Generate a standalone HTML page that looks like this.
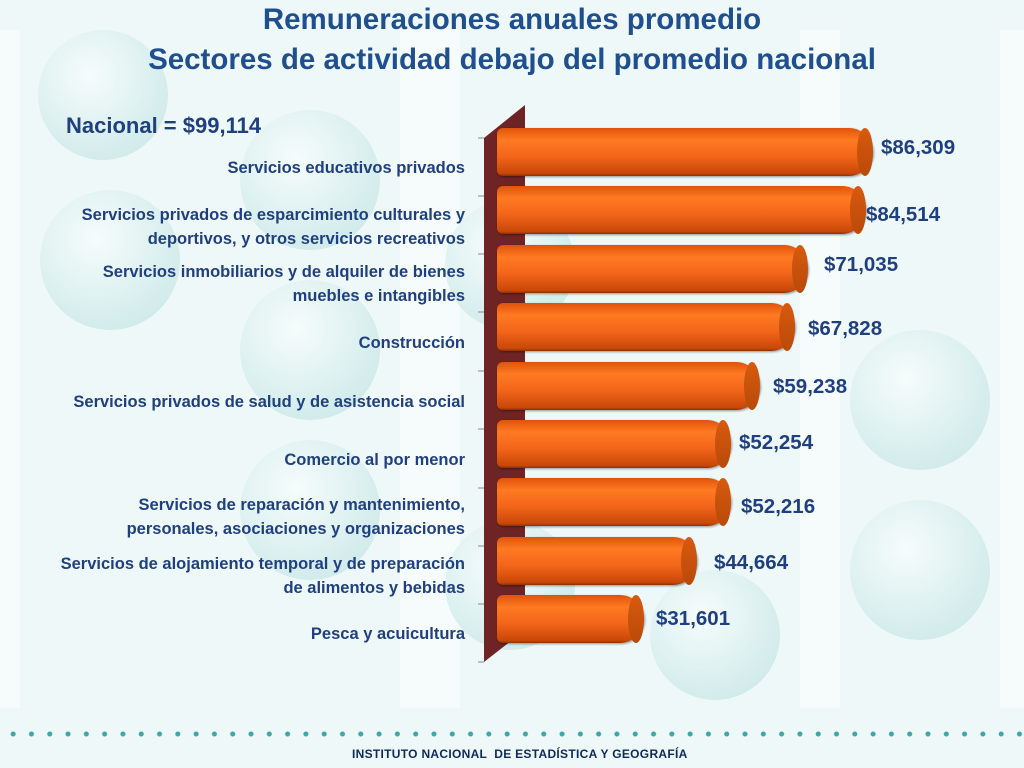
<!DOCTYPE html>
<html><head><meta charset="utf-8"><style>
body{margin:0;width:1024px;height:768px;overflow:hidden;background:#eef8f8;font-family:"Liberation Sans",sans-serif;position:relative}
.c{position:absolute;border-radius:50%;background:radial-gradient(circle at 40% 35%,#f6fcfc,#d4ecec 70%,#c6e4e4)}
.s{position:absolute;top:30px;bottom:60px;background:#f7fcfc;opacity:.8}
.t{position:absolute;left:0;width:1024px;text-align:center;color:#1f4f8f;font-weight:bold;font-size:29.5px;white-space:nowrap}
.l{position:absolute;right:559px;text-align:right;color:#1f3f7f;font-weight:bold;font-size:16.5px;line-height:24px;white-space:nowrap}
.v{position:absolute;color:#1f3f7f;font-weight:bold;font-size:20.5px}
.b{position:absolute;left:497px;height:48px;border-radius:6px 24px 24px 6px/6px 24px 24px 6px;background:linear-gradient(#e0530a,#ff7a22 25%,#f2651a 60%,#c84708 95%,#8a3004);box-shadow:1px 1px 2px rgba(0,0,0,.4)}
.b::after{content:"";position:absolute;right:0;top:0;width:16px;height:48px;border-radius:50%;background:linear-gradient(#d85a10,#b84a08)}
.dots{position:absolute;top:730px;left:4px;width:1020px;height:8px;background:radial-gradient(circle,#3fa5a8 2.2px,transparent 2.8px) 0 0/18.3px 8px repeat-x}
</style></head><body>
<div class="s" style="left:0;width:20px"></div><div class="s" style="left:400px;width:60px"></div><div class="s" style="left:800px;width:40px"></div><div class="s" style="left:1000px;width:24px"></div>
<div class="c" style="left:38px;top:30px;width:130px;height:130px"></div>
<div class="c" style="left:40px;top:190px;width:140px;height:140px"></div>
<div class="c" style="left:240px;top:110px;width:140px;height:140px"></div>
<div class="c" style="left:240px;top:280px;width:140px;height:140px"></div>
<div class="c" style="left:240px;top:440px;width:140px;height:140px"></div>
<div class="c" style="left:850px;top:330px;width:140px;height:140px"></div>
<div class="c" style="left:850px;top:500px;width:140px;height:140px"></div>
<div class="c" style="left:650px;top:570px;width:130px;height:130px"></div>
<div class="c" style="left:445px;top:200px;width:130px;height:130px"></div>
<div class="c" style="left:445px;top:520px;width:130px;height:130px"></div>
<div class="t" style="top:3px">Remuneraciones anuales promedio</div>
<div class="t" style="top:43px">Sectores de actividad debajo del promedio nacional</div>
<div style="position:absolute;left:66px;top:113px;color:#1f3f7f;font-weight:bold;font-size:22px">Nacional = $99,114</div>
<svg style="position:absolute;left:0;top:0" width="1024" height="768">
<polygon points="484,138 525,105 525,630 484,662" fill="#6e2424"/>
<g stroke="#888" stroke-width="1"><line x1="478" y1="138" x2="484" y2="138"/><line x1="478" y1="196" x2="484" y2="196"/><line x1="478" y1="254" x2="484" y2="254"/><line x1="478" y1="312" x2="484" y2="312"/><line x1="478" y1="371" x2="484" y2="371"/><line x1="478" y1="429" x2="484" y2="429"/><line x1="478" y1="488" x2="484" y2="488"/><line x1="478" y1="546" x2="484" y2="546"/><line x1="478" y1="604" x2="484" y2="604"/><line x1="478" y1="662" x2="484" y2="662"/></g>
</svg>
<div class="b" style="top:128px;width:376px"></div>
<div class="b" style="top:186px;width:369px"></div>
<div class="b" style="top:245px;width:311px"></div>
<div class="b" style="top:303px;width:298px"></div>
<div class="b" style="top:362px;width:263px"></div>
<div class="b" style="top:420px;width:234px"></div>
<div class="b" style="top:478px;width:234px"></div>
<div class="b" style="top:537px;width:200px"></div>
<div class="b" style="top:595px;width:147px"></div>
<div class="v" style="left:881px;top:136px">$86,309</div>
<div class="v" style="left:866px;top:203px">$84,514</div>
<div class="v" style="left:824px;top:253px">$71,035</div>
<div class="v" style="left:808px;top:317px">$67,828</div>
<div class="v" style="left:773px;top:375px">$59,238</div>
<div class="v" style="left:739px;top:431px">$52,254</div>
<div class="v" style="left:741px;top:495px">$52,216</div>
<div class="v" style="left:714px;top:551px">$44,664</div>
<div class="v" style="left:656px;top:607px">$31,601</div>
<div class="l" style="top:156px">Servicios educativos privados</div>
<div class="l" style="top:203px">Servicios privados de esparcimiento culturales y<br>deportivos, y otros servicios recreativos</div>
<div class="l" style="top:260px">Servicios inmobiliarios y de alquiler de bienes<br>muebles e intangibles</div>
<div class="l" style="top:331px">Construcción</div>
<div class="l" style="top:390px">Servicios privados de salud y de asistencia social</div>
<div class="l" style="top:448px">Comercio al por menor</div>
<div class="l" style="top:493px">Servicios de reparación y mantenimiento,<br>personales, asociaciones y organizaciones</div>
<div class="l" style="top:552px">Servicios de alojamiento temporal y de preparación<br>de alimentos y bebidas</div>
<div class="l" style="top:622px">Pesca y acuicultura</div>
<div class="dots"></div>
<div style="position:absolute;left:352px;top:747px;color:#0f2a5a;font-weight:bold;font-size:12px;letter-spacing:.3px">INSTITUTO NACIONAL &nbsp;DE ESTADÍSTICA Y GEOGRAFÍA</div>
</body></html>
